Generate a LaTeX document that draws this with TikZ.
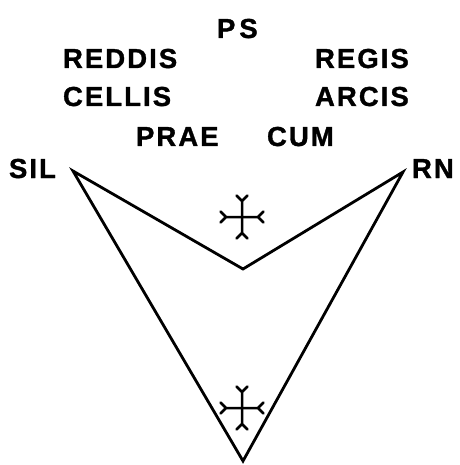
\documentclass[tikz,border=0pt]{standalone}
\usepackage{fontspec}
\newfontfamily\labfont[LetterSpace=7.5,FakeBold=1.2]{Liberation Sans}
\begin{document}
\begin{tikzpicture}[x=1pt,y=-1pt,
  lab/.style={anchor=base west,inner sep=0pt,outer sep=0pt,
    font=\labfont\bfseries\fontsize{27.5}{28}\selectfont},
  edge/.style={line width=2.8pt,line join=miter,line cap=round},
  fleury/.pic={
    \foreach \a in {0,90,180,270}{
      \draw[line width=2.5pt,line cap=round,line join=round,rotate=\a]
        (0,0) -- (16,0) -- (21.5,-5.5) (16,0) -- (21.5,5.5);
    }
  }]
\useasboundingbox (0,0) rectangle (459,465);

% inscription
\node[lab] (ps) at (217,38) {P\hspace{4pt}S};
\node[lab] (reddis) at (63,68) {REDDIS};
\node[lab] (cellis) at (63,106) {CELLIS};
\node[lab] (prae) at (136,146) {PRAE};
\node[lab] (regis) at (315,68) {REGIS};
\node[lab] (arcis) at (315,106) {ARCIS};
\node[lab] (cum) at (267,146) {CUM};
\node[lab] (sil) at (9,178) {SIL};
\node[lab] (rn) at (412,178) {RN};

% arrow-shaped outline
\coordinate (lt) at (73,171);
\coordinate (rt) at (403,172);
\coordinate (notch) at (243,269);
\coordinate (tip) at (243,461);
\draw[edge] (lt) -- (notch) -- (rt) -- (tip) -- cycle;

% crosses
\pic at (242,217) {fleury};
\pic at (242,408) {fleury};
\end{tikzpicture}
\end{document}
